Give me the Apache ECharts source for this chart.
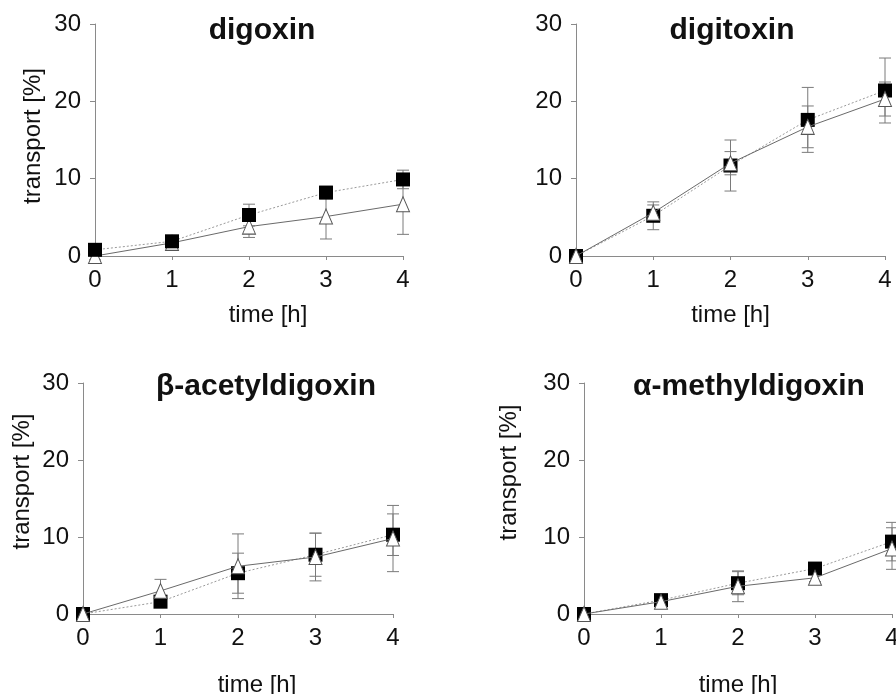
<!DOCTYPE html>
<html>
<head>
<meta charset="utf-8">
<script src="https://cdn.jsdelivr.net/npm/echarts@6/dist/echarts.min.js"></script>
<style>
html,body{margin:0;padding:0;background:#fff;}
#chart{width:896px;height:694px;}
</style>
</head>
<body>
<div id="chart"></div>
<script>
// ---- data ----
const times = [0, 1, 2, 3, 4];
const yTicks = [0, 10, 20, 30];
const panelTitles = ['digoxin', 'digitoxin', 'β-acetyldigoxin', 'α-methyldigoxin'];
const xName = 'time [h]';
const yName = 'transport [%]';

// filled squares
const digoxinSq = [0.8, 1.9, 5.3, 8.2, 9.9];
const digoxinSqErr = [0.3, 0.5, 1.4, 0.8, 1.2];
// open triangles
const digoxinTri = [0.0, 1.7, 3.8, 5.1, 6.7];
const digoxinTriErr = [0.5, 0.4, 1.4, 2.9, 3.9];

const digitoxinSq = [0.0, 5.2, 11.7, 17.6, 21.4];
const digitoxinSqErr = [0.2, 1.8, 3.3, 4.2, 4.2];
const digitoxinTri = [0.0, 5.6, 12.0, 16.7, 20.3];
const digitoxinTriErr = [0.2, 1.0, 1.5, 2.7, 2.2];

const acetylSq = [0.0, 1.6, 5.3, 7.7, 10.3];
const acetylSqErr = [0.2, 0.5, 2.6, 2.8, 2.7];
const acetylTri = [0.0, 3.0, 6.2, 7.4, 9.8];
const acetylTriErr = [0.2, 1.5, 4.2, 3.1, 4.3];

const methylSq = [0.0, 1.8, 4.0, 5.9, 9.4];
const methylSqErr = [0.2, 0.4, 1.5, 0.5, 2.5];
const methylTri = [0.0, 1.6, 3.6, 4.7, 8.5];
const methylTriErr = [0.2, 0.5, 2.0, 0.5, 2.7];

const panels = [
  {sq: digoxinSq, sqErr: digoxinSqErr, tri: digoxinTri, triErr: digoxinTriErr},
  {sq: digitoxinSq, sqErr: digitoxinSqErr, tri: digitoxinTri, triErr: digitoxinTriErr},
  {sq: acetylSq, sqErr: acetylSqErr, tri: acetylTri, triErr: acetylTriErr},
  {sq: methylSq, sqErr: methylSqErr, tri: methylTri, triErr: methylTriErr}
];

// ---- layout ----
const FONT = '"Liberation Sans", Arial, Helvetica, sans-serif';
const gridBoxes = [
  {left: 95, top: 24, width: 308, height: 232},
  {left: 576, top: 24, width: 309, height: 232},
  {left: 83, top: 383, width: 310, height: 231},
  {left: 584, top: 383, width: 308, height: 231}
];
const grids = gridBoxes.map(g => Object.assign({containLabel: false, outerBoundsMode: 'none'}, g));
const titlePos = [
  {x: 262, y: 16}, {x: 732, y: 16}, {x: 266, y: 372}, {x: 749, y: 372}
];
const xNameCfg = [
  {gap: 47, shift: 38}, {gap: 47, shift: 0}, {gap: 59, shift: 38}, {gap: 59, shift: 0}
];
const yNameCfg = [
  {gap: 50, shift: 8, show: true}, {gap: 50, shift: 0, show: false},
  {gap: 49, shift: 34, show: true}, {gap: 63, shift: 52, show: true}
];
const sqOnTop = [true, false, false, false];

const axisLine = {lineStyle: {color: '#8a8a8a', width: 1}};
const labelStyle = {fontFamily: FONT, fontSize: 24, color: '#111'};

const option = {
  animation: false,
  backgroundColor: '#fff',
  title: panelTitles.map((t, i) => ({
    text: t,
    left: titlePos[i].x,
    top: titlePos[i].y,
    padding: 0,
    textAlign: 'center',
    textStyle: {fontFamily: FONT, fontSize: 30, fontWeight: 'bold', color: '#111'}
  })),
  grid: grids,
  xAxis: grids.map((g, i) => ({
    type: 'value', gridIndex: i, min: 0, max: 4, interval: 1,
    name: xName, nameLocation: 'middle', nameGap: xNameCfg[i].gap,
    nameTextStyle: Object.assign({}, labelStyle, {padding: [0, 0, 0, xNameCfg[i].shift]}),
    axisLine: axisLine,
    axisTick: {show: true, length: 4, lineStyle: {color: '#8a8a8a'}},
    axisLabel: Object.assign({}, labelStyle, {margin: 12}),
    splitLine: {show: false}
  })),
  yAxis: grids.map((g, i) => ({
    type: 'value', gridIndex: i, min: 0, max: 30, interval: 10,
    name: yNameCfg[i].show ? yName : '', nameLocation: 'middle', nameGap: yNameCfg[i].gap,
    nameTextStyle: Object.assign({}, labelStyle, {padding: [0, 0, 0, yNameCfg[i].shift]}),
    axisLine: Object.assign({show: true}, axisLine),
    axisTick: {show: true, length: 5, lineStyle: {color: '#8a8a8a'}},
    axisLabel: Object.assign({}, labelStyle, {margin: 14}),
    splitLine: {show: false}
  })),
  series: []
};

function errSeries(i, vals, errs) {
  return {
    type: 'custom', xAxisIndex: i, yAxisIndex: i, z: 1, clip: false,
    data: times.map((t, k) => [t, vals[k], errs[k]]),
    renderItem: function (params, api) {
      const x = api.value(0), y = api.value(1), e = api.value(2);
      const top = api.coord([x, y + e]);
      const bot = api.coord([x, y - e]);
      const hw = 6;
      const st = {stroke: '#7a7a7a', lineWidth: 1};
      return {type: 'group', children: [
        {type: 'line', shape: {x1: top[0], y1: top[1], x2: bot[0], y2: bot[1]}, style: st},
        {type: 'line', shape: {x1: top[0] - hw, y1: top[1], x2: top[0] + hw, y2: top[1]}, style: st},
        {type: 'line', shape: {x1: bot[0] - hw, y1: bot[1], x2: bot[0] + hw, y2: bot[1]}, style: st}
      ]};
    }
  };
}

panels.forEach((p, i) => {
  option.series.push(errSeries(i, p.sq, p.sqErr));
  option.series.push(errSeries(i, p.tri, p.triErr));
  option.series.push({
    type: 'line', xAxisIndex: i, yAxisIndex: i,
    z: sqOnTop[i] ? 3 : 2,
    data: times.map((t, k) => [t, p.sq[k]]),
    symbol: 'rect', symbolSize: 14, showSymbol: true,
    itemStyle: {color: '#000', borderColor: '#000', borderWidth: 0},
    lineStyle: {color: '#9a9a9a', width: 1, type: [2, 2]},
    clip: false
  });
  option.series.push({
    type: 'line', xAxisIndex: i, yAxisIndex: i,
    z: sqOnTop[i] ? 2 : 3,
    data: times.map((t, k) => [t, p.tri[k]]),
    symbol: 'triangle', symbolSize: [13, 15], showSymbol: true,
    itemStyle: {color: '#fff', borderColor: '#555', borderWidth: 1},
    lineStyle: {color: '#6a6a6a', width: 1},
    clip: false
  });
});

const chart = echarts.init(document.getElementById('chart'), null, {renderer: 'canvas'});
chart.setOption(option);
</script>
</body>
</html>
